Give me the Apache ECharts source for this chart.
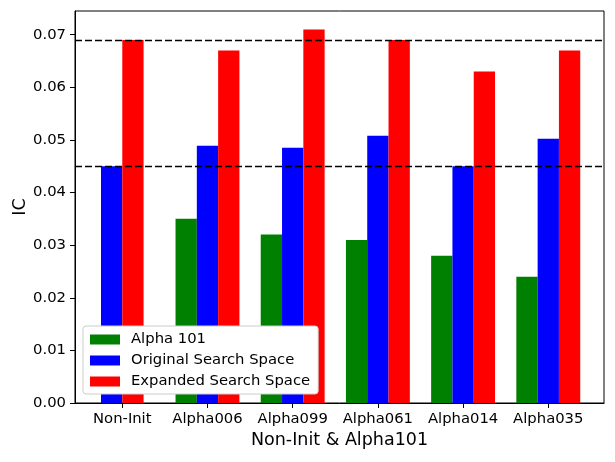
<!DOCTYPE html>
<html>
<head>
<meta charset="utf-8">
<script src="https://cdn.jsdelivr.net/npm/echarts@6/dist/echarts.min.js"></script>
<style>
    html, body { margin: 0; padding: 0; background: #fff; }
    #main { width: 615px; height: 462px; }
</style>
</head>
<body>
<div id="main"></div>
<script>
(function () {
    var categories = ['Non-Init', 'Alpha006', 'Alpha099', 'Alpha061', 'Alpha014', 'Alpha035'];
    var seriesNames = ['Alpha 101', 'Original Search Space', 'Expanded Search Space'];
    // Non-Init has no Alpha 101 bar
    var alpha101 = [null, 0.035, 0.032, 0.031, 0.028, 0.024];
    var original = [0.045, 0.0489, 0.0485, 0.0508, 0.045, 0.0502];
    var expanded = [0.069, 0.067, 0.071, 0.069, 0.063, 0.067];
    var yTicks = [0, 0.01, 0.02, 0.03, 0.04, 0.05, 0.06, 0.07];

    var colors = ['#008000', '#0000ff', '#ff0000'];
    var values = [alpha101, original, expanded];
    var barW = 0.25;
    var font = 'DejaVu Sans';

    // bars of a group sit side by side around the tick, skipping missing ones
    var seriesData = values.map(function () { return []; });
    categories.forEach(function (c, i) {
        var present = [];
        values.forEach(function (arr, k) { if (arr[i] != null) present.push(k); });
        present.forEach(function (k, j) {
            var x = i + (j - (present.length - 1) / 2) * barW;
            seriesData[k].push([x, values[k][i]]);
        });
    });

    function renderBar(params, api) {
        var x = api.value(0), y = api.value(1);
        var p0 = api.coord([x - barW / 2, 0]);
        var p1 = api.coord([x + barW / 2, y]);
        return {
            type: 'rect',
            shape: { x: p0[0], y: p1[1], width: p1[0] - p0[0], height: p0[1] - p1[1] },
            style: { fill: api.visual('color') }
        };
    }

    var series = seriesNames.map(function (name, k) {
        return {
            name: name,
            type: 'custom',
            renderItem: renderBar,
            encode: { x: 0, y: 1 },
            itemStyle: { color: colors[k] },
            data: seriesData[k],
            z: 2
        };
    });
    // dashed reference lines at the Non-Init levels
    series[2].markLine = {
        silent: true,
        symbol: 'none',
        precision: 4,
        label: { show: false },
        lineStyle: { color: '#000', type: [7, 3], width: 1.3 },
        data: [{ yAxis: expanded[0] }, { yAxis: original[0] }],
        z: 5
    };

    var myChart = echarts.init(document.getElementById('main'));
    myChart.setOption({
        animation: false,
        backgroundColor: '#fff',
        grid: {
            left: 75, right: 11, top: 11, bottom: 59,
            outerBoundsMode: 'none',
            show: true, borderColor: '#000', borderWidth: 1
        },
        legend: {
            data: seriesNames,
            orient: 'vertical',
            left: 83, top: 326,
            z: 10,
            icon: 'rect',
            itemWidth: 30, itemHeight: 10,
            itemGap: 6,
            padding: [6, 8, 5, 7],
            backgroundColor: '#ffffff',
            borderColor: '#cccccc', borderWidth: 1, borderRadius: 3,
            textStyle: { fontFamily: font, fontSize: 14.8, color: '#000', padding: [0, 0, 0, 6] },
            selectedMode: false
        },
        xAxis: {
            type: 'value',
            min: -0.555, max: 5.654,
            name: 'Non-Init & Alpha101',
            nameLocation: 'middle',
            nameGap: 28,
            nameMoveOverlap: false,
            nameTextStyle: { fontFamily: font, fontSize: 17.5, color: '#000' },
            axisLine: { show: true, onZero: false, lineStyle: { color: '#000' } },
            axisTick: {
                show: true, length: 5, lineStyle: { color: '#000' },
                customValues: categories.map(function (c, i) { return i; })
            },
            axisLabel: {
                fontFamily: font, fontSize: 14.8, color: '#000', margin: 9,
                customValues: categories.map(function (c, i) { return i; }),
                formatter: function (v) { return categories[Math.round(v)]; }
            },
            splitLine: { show: false }
        },
        yAxis: {
            type: 'value',
            min: 0, max: 0.0745,
            name: 'IC',
            nameLocation: 'middle',
            nameGap: 46,
            nameMoveOverlap: false,
            nameTextStyle: { fontFamily: font, fontSize: 17.5, color: '#000' },
            axisLine: { show: true, onZero: false, lineStyle: { color: '#000' } },
            axisTick: { show: true, length: 5, lineStyle: { color: '#000' }, customValues: yTicks },
            axisLabel: {
                fontFamily: font, fontSize: 14.8, color: '#000', margin: 9,
                customValues: yTicks,
                formatter: function (v) { return v.toFixed(2); }
            },
            splitLine: { show: false }
        },
        series: series
    });
})();
</script>
</body>
</html>
